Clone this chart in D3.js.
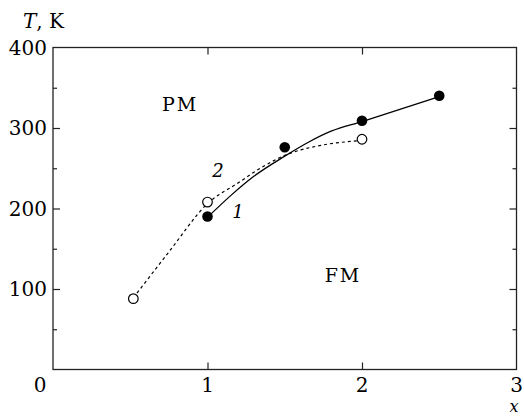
<!DOCTYPE html>
<html><head><meta charset="utf-8">
<script src="https://cdn.jsdelivr.net/npm/d3@7"></script>
<style>body{margin:0;background:#fff}svg{display:block}</style>
</head><body>
<script>
// data
const xTicks = [0, 1, 2, 3];
const yTicks = [100, 200, 300, 400];
const series1Points = [[1.0, 190], [1.5, 276], [2.0, 309], [2.5, 340]];
const series2Points = [[0.52, 88], [1.0, 208], [2.0, 286]];
const curve1 = [[1.0, 189], [1.15, 216], [1.3, 240], [1.5, 265], [1.65, 282], [1.8, 296], [2.0, 308], [2.5, 339]];
const curve2 = [[0.52, 89], [0.75, 146], [1.0, 206], [1.2, 232], [1.35, 251], [1.5, 266], [1.75, 279], [1.97, 284]];

const FONT = "'DejaVu Serif', serif";
const W = 524, H = 416;
const svg = d3.select("body").append("svg").attr("width", W).attr("height", H)
  .attr("font-family", FONT);
const x = d3.scaleLinear().domain([0, 3]).range([53, 516.5]);
const y = d3.scaleLinear().domain([0, 400]).range([369.5, 47.5]);

const g = svg.append("g");
g.append("rect").attr("x", x(0)).attr("y", y(400)).attr("width", x(3) - x(0)).attr("height", y(0) - y(400))
  .attr("fill", "none").attr("stroke", "#222").attr("stroke-width", 1.3);

const yAll = d3.range(50, 400, 50);
const mk = (axis) => axis.tickFormat("").tickSizeOuter(0);
g.append("g").attr("transform", `translate(${x(0)},0)`).call(mk(d3.axisRight(y).tickValues(yAll.filter(v => v % 100 === 0)).tickSize(7)));
g.append("g").attr("transform", `translate(${x(0)},0)`).call(mk(d3.axisRight(y).tickValues(yAll.filter(v => v % 100 !== 0)).tickSize(4)));
g.append("g").attr("transform", `translate(${x(3)},0)`).call(mk(d3.axisLeft(y).tickValues(yAll.filter(v => v % 100 === 0)).tickSize(7)));
g.append("g").attr("transform", `translate(${x(3)},0)`).call(mk(d3.axisLeft(y).tickValues(yAll.filter(v => v % 100 !== 0)).tickSize(4)));
g.append("g").attr("transform", `translate(0,${y(0)})`).call(mk(d3.axisTop(x).tickValues([1, 2]).tickSize(7)));
g.append("g").attr("transform", `translate(0,${y(400)})`).call(mk(d3.axisBottom(x).tickValues([1, 2]).tickSize(7)));
g.selectAll(".domain").remove();
g.selectAll(".tick line").attr("stroke", "#222").attr("stroke-width", 1.2);

const T = (sel) => sel.attr("font-family", FONT).attr("fill", "#000");

svg.selectAll(".ylab").data(yTicks).enter().append("text").call(T)
  .attr("x", 47).attr("y", d => y(d) + 7.2).attr("text-anchor", "end").attr("font-size", 20).text(d => d);
svg.selectAll(".xlab").data(xTicks).enter().append("text").call(T)
  .attr("x", d => d === 0 ? 40 : x(d)).attr("y", 392).attr("text-anchor", "middle").attr("font-size", 20).text(d => d);

const tt = svg.append("text").call(T).attr("x", 23).attr("y", 28).attr("font-size", 20);
tt.append("tspan").attr("font-style", "italic").text("T");
tt.append("tspan").text(", K");
svg.append("text").call(T).attr("x", 514).attr("y", 412).attr("text-anchor", "middle").attr("font-size", 16).attr("font-style", "italic").text("x");

svg.append("text").call(T).attr("x", 180).attr("y", 111).attr("text-anchor", "middle").attr("font-size", 19).attr("letter-spacing", 2).text("PM");
svg.append("text").call(T).attr("x", 343).attr("y", 282).attr("text-anchor", "middle").attr("font-size", 19).attr("letter-spacing", 2).text("FM");

svg.append("text").call(T).attr("x", 218).attr("y", 177).attr("text-anchor", "middle").attr("font-size", 18).attr("font-style", "italic").text("2");
svg.append("text").call(T).attr("x", 238).attr("y", 218).attr("text-anchor", "middle").attr("font-size", 18).attr("font-style", "italic").text("1");

const line = d3.line().x(d => x(d[0])).y(d => y(d[1])).curve(d3.curveMonotoneX);
svg.append("path").attr("d", line(curve2)).attr("fill", "none").attr("stroke", "#000").attr("stroke-width", 1.2).attr("stroke-dasharray", "3,3");
svg.append("path").attr("d", line(curve1)).attr("fill", "none").attr("stroke", "#000").attr("stroke-width", 1.3);

svg.selectAll(".p1").data(series1Points).enter().append("circle")
  .attr("cx", d => x(d[0])).attr("cy", d => y(d[1])).attr("r", 5.3).attr("fill", "#000");
svg.selectAll(".p2").data(series2Points).enter().append("circle")
  .attr("cx", d => x(d[0])).attr("cy", d => y(d[1])).attr("r", 4.8).attr("fill", "#fff").attr("stroke", "#000").attr("stroke-width", 1.2);
</script>
</body></html>
